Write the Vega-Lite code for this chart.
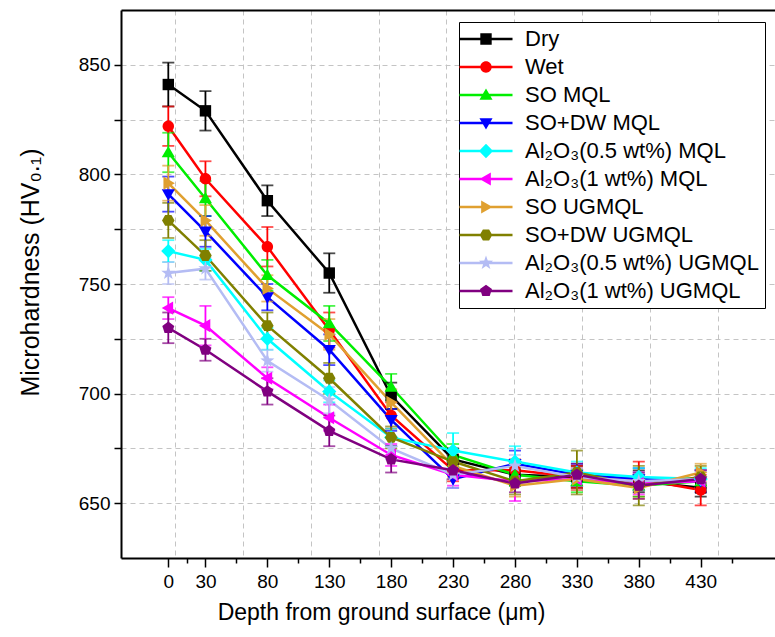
{
 "$schema": "https://vega.github.io/schema/vega-lite/v6.json",
 "width": 654, "height": 548,
 "autosize": {"type": "none"},
 "padding": {"left": 121, "top": 10, "right": 0, "bottom": 79},
 "background": "white",
 "config": {
  "view": {"stroke": null},
  "font": "Liberation Sans",
  "axis": {"labelFont": "Liberation Sans", "titleFont": "Liberation Sans", "labelColor": "black", "titleColor": "black", "titleFontWeight": "normal", "tickColor": "black", "domainColor": "black"},
  "legend": {"orient": "none", "legendX": 338, "legendY": 12, "fillColor": "white", "strokeColor": "black", "padding": 6, "rowPadding": 6, "symbolSize": 130, "symbolStrokeWidth": 0, "symbolOffset": 10, "labelOffset": 28, "labelFont": "Liberation Sans", "labelFontSize": 22, "labelColor": "black", "labelLimit": 400, "zindex": 2}
 },
 "datasets": {"d": [
  {"s":"Dry","x":0,"v":841,"e":10},{"s":"Dry","x":30,"v":829,"e":9},{"s":"Dry","x":80,"v":788,"e":7},{"s":"Dry","x":130,"v":755,"e":9},{"s":"Dry","x":180,"v":699,"e":6},{"s":"Dry","x":230,"v":670,"e":5},{"s":"Dry","x":280,"v":663,"e":5},{"s":"Dry","x":330,"v":662,"e":5},{"s":"Dry","x":380,"v":660,"e":5},{"s":"Dry","x":430,"v":657,"e":4},
  {"s":"Wet","x":0,"v":822,"e":9},{"s":"Wet","x":30,"v":798,"e":8},{"s":"Wet","x":80,"v":767,"e":9},{"s":"Wet","x":130,"v":729,"e":8},{"s":"Wet","x":180,"v":690,"e":6},{"s":"Wet","x":230,"v":665,"e":5},{"s":"Wet","x":280,"v":665,"e":5},{"s":"Wet","x":330,"v":662,"e":5},{"s":"Wet","x":380,"v":661,"e":8},{"s":"Wet","x":430,"v":656,"e":7},
  {"s":"SO MQL","x":0,"v":810,"e":9},{"s":"SO MQL","x":30,"v":789,"e":8},{"s":"SO MQL","x":80,"v":754,"e":7},{"s":"SO MQL","x":130,"v":732,"e":8},{"s":"SO MQL","x":180,"v":703,"e":6},{"s":"SO MQL","x":230,"v":672,"e":5},{"s":"SO MQL","x":280,"v":663,"e":5},{"s":"SO MQL","x":330,"v":660,"e":5},{"s":"SO MQL","x":380,"v":658,"e":5},{"s":"SO MQL","x":430,"v":660,"e":5},
  {"s":"SO+DW MQL","x":0,"v":791,"e":8},{"s":"SO+DW MQL","x":30,"v":774,"e":7},{"s":"SO+DW MQL","x":80,"v":744,"e":6},{"s":"SO+DW MQL","x":130,"v":720,"e":7},{"s":"SO+DW MQL","x":180,"v":688,"e":5},{"s":"SO+DW MQL","x":230,"v":661,"e":4},{"s":"SO+DW MQL","x":280,"v":668,"e":6},{"s":"SO+DW MQL","x":330,"v":663,"e":5},{"s":"SO+DW MQL","x":380,"v":661,"e":5},{"s":"SO+DW MQL","x":430,"v":660,"e":5},
  {"s":"Al₂O₃(0.5 wt%) MQL","x":0,"v":765,"e":5},{"s":"Al₂O₃(0.5 wt%) MQL","x":30,"v":761,"e":5},{"s":"Al₂O₃(0.5 wt%) MQL","x":80,"v":725,"e":5},{"s":"Al₂O₃(0.5 wt%) MQL","x":130,"v":701,"e":5},{"s":"Al₂O₃(0.5 wt%) MQL","x":180,"v":680,"e":4},{"s":"Al₂O₃(0.5 wt%) MQL","x":230,"v":674,"e":8},{"s":"Al₂O₃(0.5 wt%) MQL","x":280,"v":669,"e":7},{"s":"Al₂O₃(0.5 wt%) MQL","x":330,"v":664,"e":5},{"s":"Al₂O₃(0.5 wt%) MQL","x":380,"v":662,"e":4},{"s":"Al₂O₃(0.5 wt%) MQL","x":430,"v":661,"e":5},
  {"s":"Al₂O₃(1 wt%) MQL","x":0,"v":739,"e":5},{"s":"Al₂O₃(1 wt%) MQL","x":30,"v":731,"e":9},{"s":"Al₂O₃(1 wt%) MQL","x":80,"v":707,"e":5},{"s":"Al₂O₃(1 wt%) MQL","x":130,"v":689,"e":6},{"s":"Al₂O₃(1 wt%) MQL","x":180,"v":672,"e":5},{"s":"Al₂O₃(1 wt%) MQL","x":230,"v":663,"e":5},{"s":"Al₂O₃(1 wt%) MQL","x":280,"v":660,"e":9},{"s":"Al₂O₃(1 wt%) MQL","x":330,"v":661,"e":5},{"s":"Al₂O₃(1 wt%) MQL","x":380,"v":659,"e":5},{"s":"Al₂O₃(1 wt%) MQL","x":430,"v":660,"e":5},
  {"s":"SO UGMQL","x":0,"v":796,"e":8},{"s":"SO UGMQL","x":30,"v":779,"e":7},{"s":"SO UGMQL","x":80,"v":748,"e":6},{"s":"SO UGMQL","x":130,"v":727,"e":7},{"s":"SO UGMQL","x":180,"v":696,"e":6},{"s":"SO UGMQL","x":230,"v":667,"e":5},{"s":"SO UGMQL","x":280,"v":658,"e":5},{"s":"SO UGMQL","x":330,"v":661,"e":5},{"s":"SO UGMQL","x":380,"v":657,"e":5},{"s":"SO UGMQL","x":430,"v":664,"e":4},
  {"s":"SO+DW UGMQL","x":0,"v":779,"e":8},{"s":"SO+DW UGMQL","x":30,"v":763,"e":7},{"s":"SO+DW UGMQL","x":80,"v":731,"e":6},{"s":"SO+DW UGMQL","x":130,"v":707,"e":7},{"s":"SO+DW UGMQL","x":180,"v":680,"e":5},{"s":"SO+DW UGMQL","x":230,"v":669,"e":5},{"s":"SO+DW UGMQL","x":280,"v":660,"e":6},{"s":"SO+DW UGMQL","x":330,"v":664,"e":10},{"s":"SO+DW UGMQL","x":380,"v":658,"e":9},{"s":"SO+DW UGMQL","x":430,"v":662,"e":5},
  {"s":"Al₂O₃(0.5 wt%) UGMQL","x":0,"v":755,"e":5},{"s":"Al₂O₃(0.5 wt%) UGMQL","x":30,"v":757,"e":5},{"s":"Al₂O₃(0.5 wt%) UGMQL","x":80,"v":715,"e":5},{"s":"Al₂O₃(0.5 wt%) UGMQL","x":130,"v":697,"e":6},{"s":"Al₂O₃(0.5 wt%) UGMQL","x":180,"v":675,"e":5},{"s":"Al₂O₃(0.5 wt%) UGMQL","x":230,"v":663,"e":6},{"s":"Al₂O₃(0.5 wt%) UGMQL","x":280,"v":667,"e":5},{"s":"Al₂O₃(0.5 wt%) UGMQL","x":330,"v":662,"e":4},{"s":"Al₂O₃(0.5 wt%) UGMQL","x":380,"v":660,"e":4},{"s":"Al₂O₃(0.5 wt%) UGMQL","x":430,"v":661,"e":4},
  {"s":"Al₂O₃(1 wt%) UGMQL","x":0,"v":730,"e":7},{"s":"Al₂O₃(1 wt%) UGMQL","x":30,"v":720,"e":5},{"s":"Al₂O₃(1 wt%) UGMQL","x":80,"v":701,"e":6},{"s":"Al₂O₃(1 wt%) UGMQL","x":130,"v":683,"e":7},{"s":"Al₂O₃(1 wt%) UGMQL","x":180,"v":670,"e":6},{"s":"Al₂O₃(1 wt%) UGMQL","x":230,"v":665,"e":4},{"s":"Al₂O₃(1 wt%) UGMQL","x":280,"v":659,"e":4},{"s":"Al₂O₃(1 wt%) UGMQL","x":330,"v":663,"e":5},{"s":"Al₂O₃(1 wt%) UGMQL","x":380,"v":658,"e":6},{"s":"Al₂O₃(1 wt%) UGMQL","x":430,"v":661,"e":4}
 ]},
 "data": {"name": "d"},
 "resolve": {"axis": {"x": "independent", "y": "independent"}, "scale": {"color": "independent", "shape": "independent"}},
 "layer": [
  {
   "mark": {"type": "line", "strokeWidth": 2.5},
   "encoding": {
    "x": {"field": "x", "type": "quantitative", "scale": {"domain": [-38.2, 490], "nice": false, "zero": false},
      "axis": {"orient": "bottom", "values": [5.4, 60.2, 115, 169.8, 224.6, 279.4, 334.2, 389, 443.8], "grid": true, "gridDash": [5, 4], "gridColor": "#c4c4c4", "gridWidth": 1, "ticks": false, "labels": false, "domain": false, "title": null}},
    "y": {"field": "v", "type": "quantitative", "scale": {"domain": [625, 875], "nice": false, "zero": false},
      "axis": {"orient": "left", "values": [650, 675, 700, 725, 750, 775, 800, 825, 850], "grid": true, "gridDash": [5, 4], "gridColor": "#c4c4c4", "gridWidth": 1, "labelExpr": "datum.value % 50 == 0 ? datum.label : ''", "tickSize": 7, "tickWidth": 1.5, "domainWidth": 2, "labelFontSize": 19, "labelPadding": 4, "title": "Microhardness (HV₀.₁)", "titleFontSize": 25, "titleX": -91, "titleY": 262, "titleAngle": -90, "titleBaseline": "middle", "titleAlign": "center"}},
    "color": {"field": "s", "type": "nominal", "legend": null,
      "scale": {"domain": ["Dry", "Wet", "SO MQL", "SO+DW MQL", "Al₂O₃(0.5 wt%) MQL", "Al₂O₃(1 wt%) MQL", "SO UGMQL", "SO+DW UGMQL", "Al₂O₃(0.5 wt%) UGMQL", "Al₂O₃(1 wt%) UGMQL"],
                "range": ["#000000", "#ff0000", "#00ee00", "#0000ff", "#00ffff", "#ff00ff", "#e0a030", "#808000", "#b4bcf4", "#800080"]}}
   }
  },
  {
   "mark": {"type": "errorbar", "ticks": {"size": 12}, "thickness": 1.8},
   "encoding": {
    "x": {"field": "x", "type": "quantitative",
      "axis": {"orient": "bottom", "values": [0, 30, 80, 130, 180, 230, 280, 330, 380, 430], "grid": false, "tickSize": 9, "tickWidth": 1.5, "domainWidth": 2, "labelFontSize": 19, "labelPadding": 5, "labelFlush": false, "labelOverlap": false, "title": "Depth from ground surface (μm)", "titleFontSize": 23, "titleX": 260, "titleY": 54, "titleBaseline": "middle"}},
    "y": {"field": "v", "type": "quantitative", "axis": null},
    "yError": {"field": "e"},
    "color": {"field": "s", "type": "nominal", "legend": null,
      "scale": {"domain": ["Dry", "Wet", "SO MQL", "SO+DW MQL", "Al₂O₃(0.5 wt%) MQL", "Al₂O₃(1 wt%) MQL", "SO UGMQL", "SO+DW UGMQL", "Al₂O₃(0.5 wt%) UGMQL", "Al₂O₃(1 wt%) UGMQL"],
                "range": ["#000000", "#ff0000", "#00ee00", "#0000ff", "#00ffff", "#ff00ff", "#e0a030", "#808000", "#b4bcf4", "#800080"]}}
   }
  },
  {
   "mark": {"type": "point", "filled": true, "size": 130, "opacity": 1, "strokeWidth": 0},
   "encoding": {
    "x": {"field": "x", "type": "quantitative",
      "axis": {"orient": "bottom", "values": [15, 55, 105, 155, 205, 255, 305, 355, 405, 455], "grid": false, "tickSize": 5, "tickWidth": 1.5, "labels": false, "domain": false, "title": null}},
    "y": {"field": "v", "type": "quantitative", "axis": null},
    "color": {"field": "s", "type": "nominal", "legend": null,
      "scale": {"domain": ["Dry", "Wet", "SO MQL", "SO+DW MQL", "Al₂O₃(0.5 wt%) MQL", "Al₂O₃(1 wt%) MQL", "SO UGMQL", "SO+DW UGMQL", "Al₂O₃(0.5 wt%) UGMQL", "Al₂O₃(1 wt%) UGMQL"],
                "range": ["#000000", "#ff0000", "#00ee00", "#0000ff", "#00ffff", "#ff00ff", "#e0a030", "#808000", "#b4bcf4", "#800080"]}},
    "shape": {"field": "s", "type": "nominal", "legend": null,
      "scale": {"domain": ["Dry", "Wet", "SO MQL", "SO+DW MQL", "Al₂O₃(0.5 wt%) MQL", "Al₂O₃(1 wt%) MQL", "SO UGMQL", "SO+DW UGMQL", "Al₂O₃(0.5 wt%) UGMQL", "Al₂O₃(1 wt%) UGMQL"],
                "range": ["M-1,-1H1V1H-1Z", "M1,0A1,1 0 1,1 -1,0A1,1 0 1,1 1,0Z", "M0,-1.15L1.15,0.85H-1.15Z", "M0,1.15L-1.15,-0.85H1.15Z", "M0,-1.25L1.25,0L0,1.25L-1.25,0Z", "M-1.15,0L0.85,-1.15V1.15Z", "M1.15,0L-0.85,1.15V-1.15Z", "M-0.55,-0.95H0.55L1.1,0L0.55,0.95H-0.55L-1.1,0Z", "M0,-1.3L0.306,-0.421L1.236,-0.402L0.495,0.161L0.764,1.052L0,0.52L-0.764,1.052L-0.495,0.161L-1.236,-0.402L-0.306,-0.421Z", "M0,-1.1L1.05,-0.34L0.65,0.89H-0.65L-1.05,-0.34Z"]}}
   }
  },
  {
   "transform": [{"filter": "false"}],
   "mark": {"type": "point", "filled": true, "size": 130, "opacity": 1, "strokeWidth": 0},
   "encoding": {
    "x": {"field": "x", "type": "quantitative",
      "axis": {"orient": "top", "domain": true, "domainWidth": 2, "ticks": false, "labels": false, "grid": false, "title": null}},
    "y": {"field": "v", "type": "quantitative", "axis": null},
    "color": {"field": "s", "type": "nominal", "legend": {"title": null},
      "scale": {"domain": ["Dry", "Wet", "SO MQL", "SO+DW MQL", "Al₂O₃(0.5 wt%) MQL", "Al₂O₃(1 wt%) MQL", "SO UGMQL", "SO+DW UGMQL", "Al₂O₃(0.5 wt%) UGMQL", "Al₂O₃(1 wt%) UGMQL"],
                "range": ["#000000", "#ff0000", "#00ee00", "#0000ff", "#00ffff", "#ff00ff", "#e0a030", "#808000", "#b4bcf4", "#800080"]}},
    "shape": {"field": "s", "type": "nominal", "legend": {"title": null},
      "scale": {"domain": ["Dry", "Wet", "SO MQL", "SO+DW MQL", "Al₂O₃(0.5 wt%) MQL", "Al₂O₃(1 wt%) MQL", "SO UGMQL", "SO+DW UGMQL", "Al₂O₃(0.5 wt%) UGMQL", "Al₂O₃(1 wt%) UGMQL"],
                "range": ["M-4.65,-0.2H4.65V0.2H-4.65Z M-1,-1H1V1H-1Z", "M-4.65,-0.2H4.65V0.2H-4.65Z M1,0A1,1 0 1,1 -1,0A1,1 0 1,1 1,0Z", "M-4.65,-0.2H4.65V0.2H-4.65Z M0,-1.15L1.15,0.85H-1.15Z", "M-4.65,-0.2H4.65V0.2H-4.65Z M0,1.15L-1.15,-0.85H1.15Z", "M-4.65,-0.2H4.65V0.2H-4.65Z M0,-1.25L1.25,0L0,1.25L-1.25,0Z", "M-4.65,-0.2H4.65V0.2H-4.65Z M-1.15,0L0.85,-1.15V1.15Z", "M-4.65,-0.2H4.65V0.2H-4.65Z M1.15,0L-0.85,1.15V-1.15Z", "M-4.65,-0.2H4.65V0.2H-4.65Z M-0.55,-0.95H0.55L1.1,0L0.55,0.95H-0.55L-1.1,0Z", "M-4.65,-0.2H4.65V0.2H-4.65Z M0,-1.3L0.306,-0.421L1.236,-0.402L0.495,0.161L0.764,1.052L0,0.52L-0.764,1.052L-0.495,0.161L-1.236,-0.402L-0.306,-0.421Z", "M-4.65,-0.2H4.65V0.2H-4.65Z M0,-1.1L1.05,-0.34L0.65,0.89H-0.65L-1.05,-0.34Z"]}}
   }
  }
 ]
}
